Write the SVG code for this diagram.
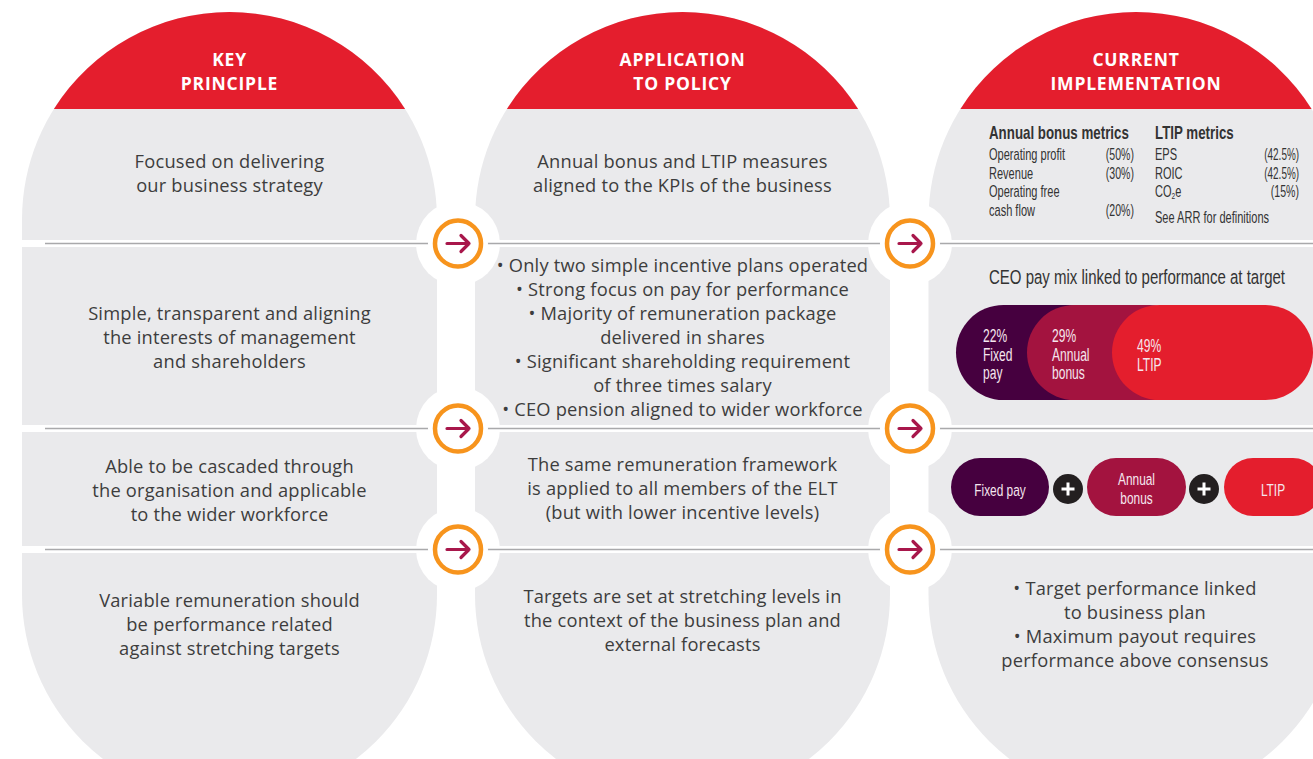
<svg xmlns="http://www.w3.org/2000/svg" width="1313" height="759" viewBox="0 0 1313 759">
  <style>
    .col { fill: #eaeaec; }
    .cap { fill: #e41e2d; }
    .band { fill: #ffffff; }
    .halo { fill: #ffffff; }
    .sep { stroke: #a9a9ab; stroke-width: 1.5; fill: none; }
    .ring { fill: #ffffff; stroke: #f7941d; stroke-width: 4.5; }
    .arr { stroke: #a8174b; stroke-width: 3.2; fill: none; stroke-linecap: round; stroke-linejoin: round; }
    .hd { font-family: "Open Sans", "Liberation Sans", sans-serif; font-weight: 700; font-size: 17.5px; fill: #ffffff; text-anchor: middle; letter-spacing: 0.8px; }
    .bd { font-family: "Open Sans", "Liberation Sans", sans-serif; font-size: 18.3px; fill: #3d3d3d; text-anchor: middle; letter-spacing: 0.2px; }
    /* condensed face: Liberation Sans squeezed horizontally via transform on each label */
    .cn { font-family: "Liberation Sans", Arial, sans-serif; fill: #333333; }
    .cnb { font-weight: 700; font-size: 18px; }
    .sm { font-size: 16px; }
    .pt { font-family: "Liberation Sans", Arial, sans-serif; font-size: 18px; fill: #f5e6ee; }
    .pt2 { font-family: "Liberation Sans", Arial, sans-serif; font-size: 17px; fill: #f5e6ee; text-anchor: middle; }
    .end { text-anchor: end; }
    .mid { text-anchor: middle; }
    .purple { fill: #46003f; }
    .mag { fill: #a3133f; }
    .red { fill: #e41e2d; }
    .plus { fill: #231f20; }
    .pl { stroke: #ffffff; stroke-width: 3; }
  </style>
  <defs>
    <!-- stadium-shaped column, 415 wide, fully rounded ends -->
    <rect id="colShape" x="-207.5" y="12" width="415" height="790" rx="207.5" ry="207.5"/>
    <!-- red header cap: segment of the top arc above y=109 -->
    <path id="capShape" d="M -175.6 109 A 207.5 207.5 0 0 1 175.6 109 Z"/>
    <g id="arrowMark">
      <circle r="30" class="ring" style="stroke:none"/>
      <circle r="23" class="ring"/>
      <path class="arr" d="M -11 0 H 11 M 3 -8 L 11 0 L 3 8"/>
    </g>
  </defs>

  <!-- columns -->
  <g id="col-key-principle">
    <use href="#colShape" x="229.5" class="col"/>
    <use href="#capShape" x="229.5" class="cap"/>
  </g>
  <g id="col-application">
    <use href="#colShape" x="682.5" class="col"/>
    <use href="#capShape" x="682.5" class="cap"/>
  </g>
  <g id="col-implementation">
    <use href="#colShape" x="1136" class="col"/>
    <use href="#capShape" x="1136" class="cap"/>
  </g>

  <!-- row separators: white gaps across the columns -->
  <g id="separators">
    <rect class="band" x="0" y="240" width="1313" height="7"/>
    <rect class="band" x="0" y="425" width="1313" height="7"/>
    <rect class="band" x="0" y="546" width="1313" height="7"/>
    <circle class="halo" cx="458" cy="243.5" r="42"/>
    <circle class="halo" cx="458" cy="428.5" r="42"/>
    <circle class="halo" cx="458" cy="549.5" r="42"/>
    <circle class="halo" cx="910" cy="243.5" r="42"/>
    <circle class="halo" cx="910" cy="428.5" r="42"/>
    <circle class="halo" cx="910" cy="549.5" r="42"/>
  </g>

  <!-- connectors: grey rules and arrow markers between columns -->
  <g id="connectors">
    <path class="sep" d="M 45 243.5 H 1313 M 45 428.5 H 1313 M 45 549.5 H 1313"/>
    <use href="#arrowMark" x="458" y="243.5"/>
    <use href="#arrowMark" x="458" y="428.5"/>
    <use href="#arrowMark" x="458" y="549.5"/>
    <use href="#arrowMark" x="910" y="243.5"/>
    <use href="#arrowMark" x="910" y="428.5"/>
    <use href="#arrowMark" x="910" y="549.5"/>
  </g>

  <!-- headers -->
  <g id="header-key-principle">
    <text class="hd" x="229.5" y="66">KEY</text>
    <text class="hd" x="229.5" y="90">PRINCIPLE</text>
  </g>
  <g id="header-application">
    <text class="hd" x="682.5" y="66">APPLICATION</text>
    <text class="hd" x="682.5" y="90">TO POLICY</text>
  </g>
  <g id="header-implementation">
    <text class="hd" x="1136" y="66">CURRENT</text>
    <text class="hd" x="1136" y="90">IMPLEMENTATION</text>
  </g>

  <!-- key principle cells -->
  <g id="kp-1">
    <text class="bd" x="229.5" y="168">Focused on delivering</text>
    <text class="bd" x="229.5" y="192">our business strategy</text>
  </g>
  <g id="kp-2">
    <text class="bd" x="229.5" y="320">Simple, transparent and aligning</text>
    <text class="bd" x="229.5" y="344">the interests of management</text>
    <text class="bd" x="229.5" y="368">and shareholders</text>
  </g>
  <g id="kp-3">
    <text class="bd" x="229.5" y="473">Able to be cascaded through</text>
    <text class="bd" x="229.5" y="497">the organisation and applicable</text>
    <text class="bd" x="229.5" y="521">to the wider workforce</text>
  </g>
  <g id="kp-4">
    <text class="bd" x="229.5" y="607">Variable remuneration should</text>
    <text class="bd" x="229.5" y="631">be performance related</text>
    <text class="bd" x="229.5" y="655">against stretching targets</text>
  </g>

  <!-- application to policy cells -->
  <g id="ap-1">
    <text class="bd" x="682.5" y="168">Annual bonus and LTIP measures</text>
    <text class="bd" x="682.5" y="192">aligned to the KPIs of the business</text>
  </g>
  <g id="ap-2">
    <text class="bd" x="682.5" y="272">• Only two simple incentive plans operated</text>
    <text class="bd" x="682.5" y="296">• Strong focus on pay for performance</text>
    <text class="bd" x="682.5" y="320">• Majority of remuneration package</text>
    <text class="bd" x="682.5" y="344">delivered in shares</text>
    <text class="bd" x="682.5" y="368">• Significant shareholding requirement</text>
    <text class="bd" x="682.5" y="392">of three times salary</text>
    <text class="bd" x="682.5" y="416">• CEO pension aligned to wider workforce</text>
  </g>
  <g id="ap-3">
    <text class="bd" x="682.5" y="471">The same remuneration framework</text>
    <text class="bd" x="682.5" y="495">is applied to all members of the ELT</text>
    <text class="bd" x="682.5" y="519">(but with lower incentive levels)</text>
  </g>
  <g id="ap-4">
    <text class="bd" x="682.5" y="603">Targets are set at stretching levels in</text>
    <text class="bd" x="682.5" y="627">the context of the business plan and</text>
    <text class="bd" x="682.5" y="651">external forecasts</text>
  </g>

  <!-- current implementation: metrics -->
  <g id="ci-1">
    <text class="cn cnb" transform="translate(989 139) scale(0.74 1)">Annual bonus metrics</text>
    <text class="cn sm" transform="translate(989 160) scale(0.69 1)">Operating profit</text>
    <text class="cn sm end" transform="translate(1134 160) scale(0.66 1)">(50%)</text>
    <text class="cn sm" transform="translate(989 178.5) scale(0.69 1)">Revenue</text>
    <text class="cn sm end" transform="translate(1134 178.5) scale(0.66 1)">(30%)</text>
    <text class="cn sm" transform="translate(989 197) scale(0.69 1)">Operating free</text>
    <text class="cn sm" transform="translate(989 215.5) scale(0.69 1)">cash flow</text>
    <text class="cn sm end" transform="translate(1134 215.5) scale(0.66 1)">(20%)</text>
    <text class="cn cnb" transform="translate(1155 139) scale(0.74 1)">LTIP metrics</text>
    <text class="cn sm" transform="translate(1155 160) scale(0.69 1)">EPS</text>
    <text class="cn sm end" transform="translate(1299 160) scale(0.62 1)">(42.5%)</text>
    <text class="cn sm" transform="translate(1155 178.5) scale(0.69 1)">ROIC</text>
    <text class="cn sm end" transform="translate(1299 178.5) scale(0.62 1)">(42.5%)</text>
    <text class="cn sm" transform="translate(1155 197) scale(0.69 1)">CO<tspan font-size="9.5" dy="2">2</tspan><tspan dy="-2">e</tspan></text>
    <text class="cn sm end" transform="translate(1299 197) scale(0.66 1)">(15%)</text>
    <text class="cn sm" transform="translate(1155 222.5) scale(0.69 1)">See ARR for definitions</text>
  </g>

  <!-- current implementation: CEO pay mix -->
  <g id="ci-2">
    <text class="cn mid" font-size="19.5" transform="translate(1137 283.5) scale(0.77 1)">CEO pay mix linked to performance at target</text>
    <rect class="purple" x="956" y="305" width="160" height="95" rx="47.5"/>
    <rect class="mag" x="1027" y="305" width="170" height="95" rx="47.5"/>
    <rect class="red" x="1112" y="305" width="201" height="95" rx="47.5"/>
    <text class="pt" transform="translate(983 342) scale(0.67 1)">22%</text>
    <text class="pt" transform="translate(983 360.5) scale(0.67 1)">Fixed</text>
    <text class="pt" transform="translate(983 379) scale(0.67 1)">pay</text>
    <text class="pt" transform="translate(1052 342) scale(0.67 1)">29%</text>
    <text class="pt" transform="translate(1052 360.5) scale(0.67 1)">Annual</text>
    <text class="pt" transform="translate(1052 379) scale(0.67 1)">bonus</text>
    <text class="pt" transform="translate(1137 352) scale(0.67 1)">49%</text>
    <text class="pt" transform="translate(1137 370.5) scale(0.67 1)">LTIP</text>
  </g>

  <!-- current implementation: ELT structure -->
  <g id="ci-3">
    <rect class="purple" x="951" y="458" width="98" height="58" rx="29"/>
    <text class="pt2" transform="translate(1000 496) scale(0.7 1)">Fixed pay</text>
    <circle class="plus" cx="1068" cy="489" r="15"/>
    <path class="pl" d="M 1061.5 489 H 1074.5 M 1068 482.5 V 495.5"/>
    <rect class="mag" x="1087" y="458" width="99" height="58" rx="29"/>
    <text class="pt2" transform="translate(1136.5 485) scale(0.7 1)">Annual</text>
    <text class="pt2" transform="translate(1136.5 503.5) scale(0.7 1)">bonus</text>
    <circle class="plus" cx="1204" cy="489" r="15"/>
    <path class="pl" d="M 1197.5 489 H 1210.5 M 1204 482.5 V 495.5"/>
    <rect class="red" x="1224" y="458" width="98" height="58" rx="29"/>
    <text class="pt2" transform="translate(1273 496) scale(0.7 1)">LTIP</text>
  </g>

  <!-- current implementation: targets -->
  <g id="ci-4">
    <text class="bd" x="1135" y="595">• Target performance linked</text>
    <text class="bd" x="1135" y="619">to business plan</text>
    <text class="bd" x="1135" y="643">• Maximum payout requires</text>
    <text class="bd" x="1135" y="667">performance above consensus</text>
  </g>
</svg>
